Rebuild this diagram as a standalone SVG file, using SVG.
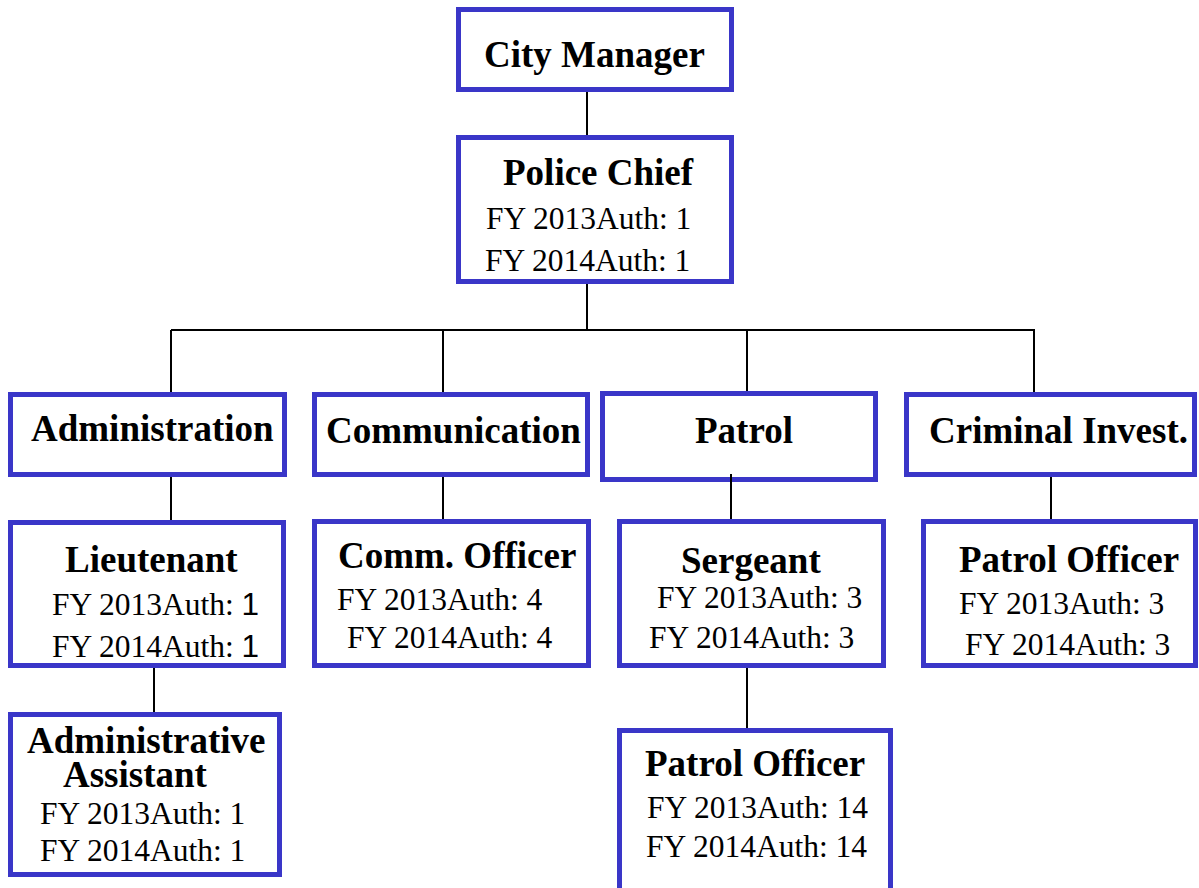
<svg xmlns="http://www.w3.org/2000/svg" width="1199" height="888" viewBox="0 0 1199 888">
  <style>
    .box { fill: #ffffff; stroke: #3a36c8; stroke-width: 5; }
    .title { font-family: "Liberation Serif", "Times New Roman", serif; font-weight: bold; font-size: 37px; fill: #000; }
    .auth { font-family: "Liberation Serif", "Times New Roman", serif; font-size: 31.5px; fill: #000; }
    .sans { font-family: "Liberation Sans", Arial, sans-serif; }
    .link { stroke: #000; stroke-width: 2; fill: none; }
  </style>
  <rect width="1199" height="888" fill="#ffffff"/>

  <g id="city-manager">
    <rect class="box" x="458.5" y="9.5" width="273" height="80"/>
    <text class="title" x="484" y="67">City Manager</text>
  </g>

  <g id="police-chief">
    <rect class="box" x="458.5" y="137.5" width="273" height="144"/>
    <text class="title" x="503" y="185">Police Chief</text>
    <text class="auth" x="486" y="229">FY 2013Auth: 1</text>
    <text class="auth" x="485" y="271">FY 2014Auth: 1</text>
  </g>

  <g id="administration">
    <rect class="box" x="10.5" y="394.5" width="274" height="80"/>
    <text class="title" x="31" y="441">Administration</text>
  </g>

  <g id="communication">
    <rect class="box" x="314.5" y="394.5" width="273" height="80"/>
    <text class="title" x="326" y="443">Communication</text>
  </g>

  <g id="patrol">
    <rect class="box" x="602.5" y="393.5" width="273" height="86"/>
    <text class="title" x="695" y="443">Patrol</text>
  </g>

  <g id="criminal-invest">
    <rect class="box" x="906.5" y="394.5" width="288" height="80"/>
    <text class="title" x="929" y="443">Criminal Invest.</text>
  </g>

  <g id="lieutenant">
    <rect class="box" x="10.5" y="522.5" width="273" height="143"/>
    <text class="title" x="65" y="572">Lieutenant</text>
    <text class="auth" x="52" y="615">FY 2013Auth: <tspan class="sans">1</tspan></text>
    <text class="auth" x="52" y="657">FY 2014Auth: <tspan class="sans">1</tspan></text>
  </g>

  <g id="comm-officer">
    <rect class="box" x="314.5" y="521.5" width="274" height="144"/>
    <text class="title" x="338" y="568">Comm. Officer</text>
    <text class="auth" x="337" y="610">FY 2013Auth: 4</text>
    <text class="auth" x="347" y="648">FY 2014Auth: 4</text>
  </g>

  <g id="sergeant">
    <rect class="box" x="619.5" y="521.5" width="264" height="144"/>
    <text class="title" x="681" y="573">Sergeant</text>
    <text class="auth" x="657" y="608">FY 2013Auth: 3</text>
    <text class="auth" x="649" y="648">FY 2014Auth: 3</text>
  </g>

  <g id="ci-patrol-officer">
    <rect class="box" x="923.5" y="521.5" width="272" height="144"/>
    <text class="title" x="959" y="572">Patrol Officer</text>
    <text class="auth" x="959" y="614">FY 2013Auth: 3</text>
    <text class="auth" x="965" y="655">FY 2014Auth: 3</text>
  </g>

  <g id="admin-assistant">
    <rect class="box" x="10.5" y="714.5" width="269" height="160"/>
    <!-- two-line title, tightly set -->
    <text class="title"><tspan x="27" y="753">Administrative</tspan><tspan x="63" y="787">Assistant</tspan></text>
    <text class="auth" x="40" y="824">FY 2013Auth: 1</text>
    <text class="auth" x="40" y="861">FY 2014Auth: 1</text>
  </g>

  <g id="patrol-officer">
    <rect class="box" x="619.5" y="730.5" width="271" height="170"/>
    <text class="title" x="645" y="776">Patrol Officer</text>
    <text class="auth" x="647" y="818">FY 2013Auth: 14</text>
    <text class="auth" x="646" y="857">FY 2014Auth: 14</text>
  </g>

  <g id="connectors" class="link">
    <line x1="587" y1="92" x2="587" y2="135"/>
    <line x1="587" y1="284" x2="587" y2="330"/>
    <line x1="171" y1="330" x2="1035" y2="330"/>
    <line x1="171" y1="330" x2="171" y2="392"/>
    <line x1="443" y1="330" x2="443" y2="392"/>
    <line x1="747" y1="330" x2="747" y2="391"/>
    <line x1="1034" y1="330" x2="1034" y2="392"/>
    <line x1="171" y1="477" x2="171" y2="520"/>
    <line x1="154" y1="668" x2="154" y2="712"/>
    <line x1="443" y1="477" x2="443" y2="519"/>
    <line x1="731" y1="474" x2="731" y2="519"/>
    <line x1="747" y1="668" x2="747" y2="728"/>
    <line x1="1051" y1="477" x2="1051" y2="519"/>
  </g>
</svg>
